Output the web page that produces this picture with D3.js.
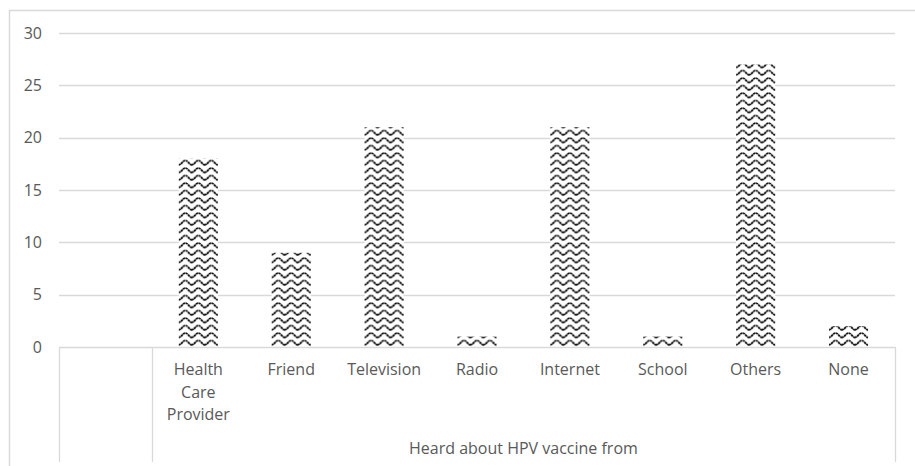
<!DOCTYPE html>
<html>
<head>
<meta charset="utf-8">
<script src="https://cdn.jsdelivr.net/npm/d3@7"></script>
<style>
  body { margin: 0; background: #fff; }
  svg text { font-family: "Open Sans", "Liberation Sans", sans-serif; fill: #595959; }
</style>
</head>
<body>
<svg width="915" height="466"></svg>
<script>
// data
var categories = ["Health Care Provider", "Friend", "Television", "Radio", "Internet", "School", "Others", "None"];
var counts = [18, 9, 21, 1, 21, 1, 27, 2];
var yTicks = [0, 5, 10, 15, 20, 25, 30];
var axisTitle = "Heard about HPV vaccine from";

var svg = d3.select("svg"),
    width = +svg.attr("width"),
    height = +svg.attr("height");

// plot edges (note: "top" is reserved on window, so use other names)
var plotL = 59, plotR = 895, plotT = 33, plotB = 347;

// outer frame of the chart area
svg.append("path")
    .attr("d", "M9.5," + height + "V10.5H" + width)
    .attr("fill", "none")
    .attr("stroke", "#d9d9d9")
    .attr("stroke-width", 1.5);

// first slot is an empty category, as in the original
var slots = ["_blank"].concat(categories);

var x = d3.scaleBand()
    .domain(slots)
    .range([plotL, plotR])
    .paddingInner(0)
    .paddingOuter(0);

var y = d3.scaleLinear()
    .domain([0, 30])
    .range([plotB, plotT]);

// gridlines
svg.append("g")
  .selectAll("line")
  .data(yTicks.filter(function(d) { return d > 0; }))
  .enter().append("line")
    .attr("x1", plotL)
    .attr("x2", plotR)
    .attr("y1", function(d) { return Math.round(y(d)) + 0.5; })
    .attr("y2", function(d) { return Math.round(y(d)) + 0.5; })
    .attr("stroke", "#d9d9d9")
    .attr("stroke-width", 1.3);

// y tick labels
svg.append("g")
  .selectAll("text")
  .data(yTicks)
  .enter().append("text")
    .attr("x", 42)
    .attr("y", function(d) { return y(d); })
    .attr("dy", ".35em")
    .attr("text-anchor", "end")
    .style("font-size", "16px")
    .text(function(d) { return d; });

// wavy fill patterns, one per bar so the waves start at each bar's edge
var barW = 39;
var defs = svg.append("defs");
var pw = 13, ph = 7.5;

categories.forEach(function(c, i) {
  var bx = x(c) + (x.bandwidth() - barW) / 2;
  var p = defs.append("pattern")
      .attr("id", "wave" + i)
      .attr("patternUnits", "userSpaceOnUse")
      .attr("x", bx)
      .attr("y", plotB)
      .attr("width", pw)
      .attr("height", ph);
  p.append("rect").attr("width", pw).attr("height", ph).attr("fill", "#fff");
  p.append("path")
      .attr("d", "M-0.5,5.4 Q1.6,5.4 3.25,3.2 Q4.9,1 6.5,1 Q8.1,1 9.75,3.2 Q11.4,5.4 13.5,5.4")
      .attr("fill", "none")
      .attr("stroke", "#000")
      .attr("stroke-width", 1.7)
      .attr("stroke-dasharray", "2.4,0.5");
});

// bars
svg.append("g")
  .selectAll("rect")
  .data(categories)
  .enter().append("rect")
    .attr("x", function(d) { return x(d) + (x.bandwidth() - barW) / 2; })
    .attr("y", function(d, i) { return y(counts[i]); })
    .attr("width", barW)
    .attr("height", function(d, i) { return plotB - y(counts[i]); })
    .attr("fill", function(d, i) { return "url(#wave" + i + ")"; });

// category axis: baseline and the box below it
var axisG = svg.append("g")
    .attr("stroke", "#d9d9d9")
    .attr("stroke-width", 1.3)
    .attr("fill", "none");

axisG.append("line")
    .attr("x1", plotL).attr("x2", plotR)
    .attr("y1", plotB + 0.5).attr("y2", plotB + 0.5);

[plotL, x(categories[0]), plotR].forEach(function(xx) {
  axisG.append("line")
      .attr("x1", Math.round(xx) + 0.5).attr("x2", Math.round(xx) + 0.5)
      .attr("y1", plotB).attr("y2", 462);
});

// category labels, wrapped word by word
var labels = svg.append("g")
  .selectAll("text")
  .data(categories)
  .enter().append("text")
    .attr("x", function(d) { return x(d) + x.bandwidth() / 2; })
    .attr("y", 375)
    .attr("text-anchor", "middle")
    .style("font-size", "16px");

labels.each(function(d) {
  var t = d3.select(this);
  var words = d.split(" ");
  words.forEach(function(w, j) {
    t.append("tspan")
        .attr("x", x(d) + x.bandwidth() / 2)
        .attr("dy", j === 0 ? 0 : 22.5)
        .text(w);
  });
});

// axis title
svg.append("text")
    .attr("x", (x(categories[0]) + plotR) / 2)
    .attr("y", 454)
    .attr("text-anchor", "middle")
    .style("font-size", "16px")
    .text(axisTitle);
</script>
</body>
</html>
